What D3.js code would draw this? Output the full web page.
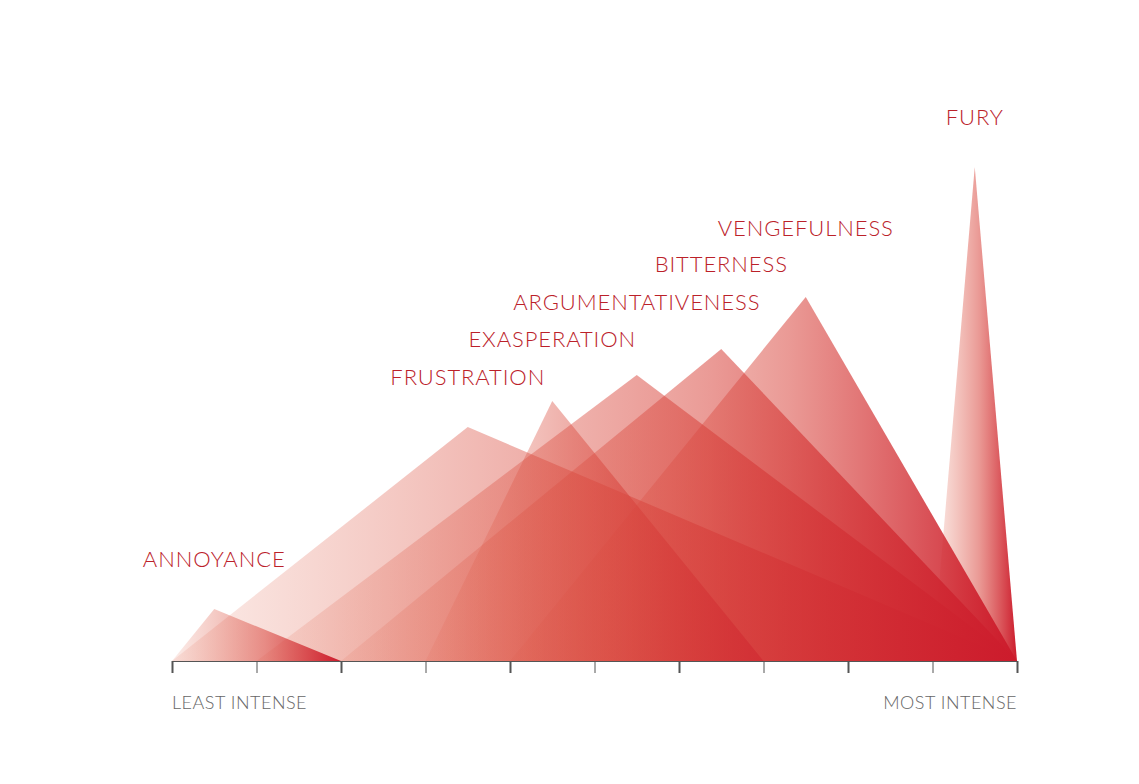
<!DOCTYPE html>
<html>
<head>
<meta charset="utf-8">
<script src="https://cdn.jsdelivr.net/npm/d3@7"></script>
<style>
  body { margin: 0; background: #ffffff; }
  svg { display: block; }
</style>
</head>
<body>
<div id="chart"></div>
<script>
// Emotions of anger, ordered from least to most intense
const emotions = ["ANNOYANCE", "FRUSTRATION", "EXASPERATION", "ARGUMENTATIVENESS", "BITTERNESS", "VENGEFULNESS", "FURY"];
// intensity where each triangle starts, peaks and ends (0 = least, 10 = most)
const startAt = [0, 0, 3, 1, 2, 4, 9];
const peakAt = [0.5, 3.5, 4.5, 5.5, 6.5, 7.5, 9.5];
const endAt = [2, 10, 7, 10, 10, 10, 10];
// peak height
const peakHeight = [2, 9, 10, 11, 12, 14, 19];
const axisTicks = d3.range(0, 11);
const axisLabels = ["LEAST INTENSE", "MOST INTENSE"];

const width = 1139;
const height = 784;
const baseY = 661;

// label lift above each peak (px)
const labelLift = [42, 42, 54, 65, 77, 61, 42];

const svg = d3.select("#chart")
  .append("svg")
  .attr("width", width)
  .attr("height", height);

const x = d3.scaleLinear().domain([0, 10]).range([172, 1017]);
const y = d3.scaleLinear().domain([0, 19]).range([baseY, baseY - 19 * 26]);

// one horizontal gradient per triangle (light pink -> deep red)
const defs = svg.append("defs");
emotions.forEach((e, i) => {
  const g = defs.append("linearGradient")
    .attr("id", "grad" + i)
    .attr("x1", "0%").attr("x2", "100%")
    .attr("y1", "0%").attr("y2", "0%");
  g.append("stop").attr("offset", "0%").attr("stop-color", "#e2684e").attr("stop-opacity", 0.12);
  g.append("stop").attr("offset", "55%").attr("stop-color", "#d9473f").attr("stop-opacity", 0.55);
  g.append("stop").attr("offset", "100%").attr("stop-color", "#cc1b2c").attr("stop-opacity", 1);
});

const tri = d3.line();

// most intense drawn first so it sits behind
const order = d3.range(emotions.length).reverse();

svg.append("g")
  .selectAll("path")
  .data(order)
  .join("path")
  .attr("d", i => tri([
    [x(startAt[i]), y(0)],
    [x(peakAt[i]), y(peakHeight[i])],
    [x(endAt[i]), y(0)]
  ]) + "Z")
  .attr("fill", i => `url(#grad${i})`);

// emotion labels
svg.append("g")
  .selectAll("text")
  .data(emotions)
  .join("text")
  .attr("x", (d, i) => x(peakAt[i]))
  .attr("y", (d, i) => y(peakHeight[i]) - labelLift[i])
  .attr("text-anchor", "middle")
  .style("font-family", "Lato, 'Open Sans', sans-serif")
  .style("font-size", "22px")
  .style("font-weight", 300)
  .style("letter-spacing", "0.9px")
  .style("fill", "#bb2129")
  .text(d => d);

// axis
const axis = svg.append("g")
  .attr("transform", `translate(0,${baseY})`)
  .call(d3.axisBottom(x).tickValues(axisTicks).tickSize(12).tickSizeOuter(0).tickFormat(""));
axis.select(".domain").attr("stroke", "#555").attr("stroke-width", 1.2);
axis.selectAll(".tick line")
  .attr("stroke", "#555")
  .attr("stroke-width", d => d % 2 === 0 ? 2 : 1);

svg.append("text")
  .attr("x", x(0))
  .attr("y", 709)
  .style("font-family", "Lato, sans-serif")
  .style("font-weight", 300)
  .style("font-size", "18px")
  .style("letter-spacing", "0.5px")
  .style("fill", "#666")
  .text(axisLabels[0]);

svg.append("text")
  .attr("x", x(10))
  .attr("y", 709)
  .attr("text-anchor", "end")
  .style("font-family", "Lato, sans-serif")
  .style("font-weight", 300)
  .style("font-size", "18px")
  .style("letter-spacing", "0.5px")
  .style("fill", "#666")
  .text(axisLabels[1]);
</script>
</body>
</html>
